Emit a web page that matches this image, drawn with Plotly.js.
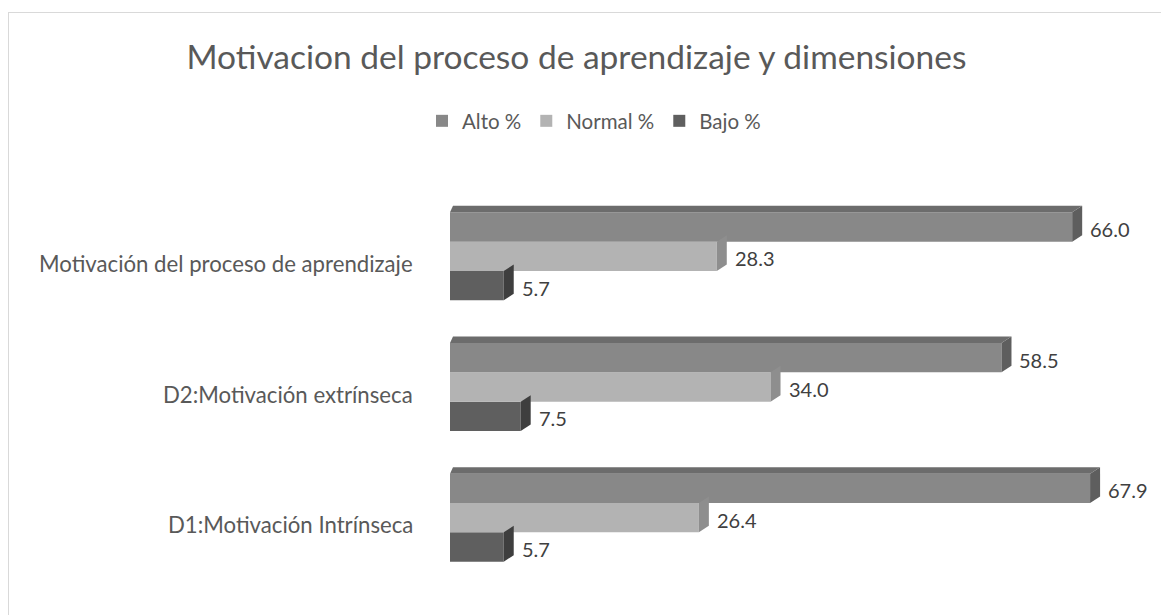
<!DOCTYPE html>
<html>
<head>
<meta charset="utf-8">
<script src="https://cdn.plot.ly/plotly-3.0.1.min.js"></script>
<style>
  html, body { margin: 0; padding: 0; background: #fff; }
  #wrap { position: relative; width: 1161px; height: 615px; overflow: hidden; }
  #chart { position: absolute; left: 0; top: 0; width: 1161px; height: 615px; }
  #frame { position: absolute; left: 8px; top: 12px; width: 1200px; height: 700px;
           border-left: 1.5px solid #d9d9d9; border-top: 1.5px solid #d9d9d9; pointer-events: none; }
</style>
</head>
<body>
<div id="wrap">
  <div id="chart"></div>
  <div id="frame"></div>
</div>
<script>
// ---- data ----
const categories = ['D1:Motivación Intrínseca', 'D2:Motivación extrínseca', 'Motivación del proceso de aprendizaje'];
const seriesNames = ['Alto %', 'Normal %', 'Bajo %'];
const alto = [67.9, 58.5, 66.0];
const normal = [26.4, 34.0, 28.3];
const bajo = [5.7, 7.5, 5.7];

// ---- styling ----
const W = 1161, H = 615;
const margin = {l: 450, r: 20, t: 191, b: 32};
const xMax = 73.3;
const plotW = W - margin.l - margin.r;
const plotH = H - margin.t - margin.b;
const pxPerX = plotW / xMax;
const pxPerCat = plotH / categories.length;
const barW = 0.2245;
const dxU = 10 / pxPerX;        // side depth, x units
const dyU = 6.5 / pxPerCat;     // depth, category units
const dxLeftU = 3 / pxPerX;

const styles = [
  {name: seriesNames[0], vals: alto,   front: '#888888', side: '#5e5e5e', top: '#6c6c6c', offset: barW / 2},
  {name: seriesNames[1], vals: normal, front: '#b3b3b3', side: '#8e8e8e', top: '#9a9a9a', offset: -barW / 2},
  {name: seriesNames[2], vals: bajo,   front: '#5f5f5f', side: '#3e3e3e', top: '#4a4a4a', offset: -barW * 1.5}
];

const catIdx = categories.map((c, i) => i);

// traces in bottom-to-top order so legend (reversed) reads Alto, Normal, Bajo
const traces = styles.slice().reverse().map(s => ({
  type: 'bar',
  orientation: 'h',
  name: s.name,
  y: catIdx,
  x: s.vals,
  width: barW,
  offset: s.offset,
  marker: {color: s.front, line: {width: 0}},
  hoverinfo: 'x+name'
}));

const shapes = [];
const annotations = [];
styles.forEach((s, si) => {
  s.vals.forEach((v, i) => {
    const y0 = i + s.offset;
    const y1 = y0 + barW;
    // right side face
    shapes.push({
      type: 'path', xref: 'x', yref: 'y', layer: 'above',
      path: `M ${v} ${y0} L ${v} ${y1} L ${v + dxU} ${y1 + dyU} L ${v + dxU} ${y0 + dyU} Z`,
      fillcolor: s.side, line: {width: 0}
    });
    // top face only for the top bar of each group
    if (si === 0) {
      shapes.push({
        type: 'path', xref: 'x', yref: 'y', layer: 'above',
        path: `M 0 ${y1} L ${v} ${y1} L ${v + dxU} ${y1 + dyU} L ${dxLeftU} ${y1 + dyU} Z`,
        fillcolor: s.top, line: {width: 0}
      });
    }
    annotations.push({
      xref: 'x', yref: 'y', x: v, y: (y0 + y1) / 2,
      xanchor: 'left', yanchor: 'middle', xshift: 16, yshift: -2,
      text: v.toFixed(1), showarrow: false,
      font: {family: 'Lato, sans-serif', size: 20, color: '#404040'}
    });
  });
});

categories.forEach((c, i) => {
  annotations.push({
    xref: 'paper', yref: 'y', x: 0, y: i,
    xanchor: 'right', yanchor: 'middle', xshift: -35, yshift: -7,
    text: c, showarrow: false,
    font: {family: 'Lato, sans-serif', size: 22.2, color: '#595959'}
  });
});

const layout = {
  width: W, height: H,
  margin: margin,
  paper_bgcolor: '#ffffff',
  plot_bgcolor: '#ffffff',
  barmode: 'overlay',
  title: {
    text: 'Motivacion del proceso de aprendizaje y dimensiones',
    xref: 'container', yref: 'container',
    x: 576.5 / W, y: 1 - 57 / H, xanchor: 'center', yanchor: 'middle',
    font: {family: 'Lato, sans-serif', size: 33.5, color: '#595959'}
  },
  showlegend: true,
  legend: {
    orientation: 'h', traceorder: 'reversed',
    xref: 'container', yref: 'container',
    x: 594 / W, y: 1 - 121 / H, xanchor: 'center', yanchor: 'middle',
    font: {family: 'Lato, sans-serif', size: 20.5, color: '#595959'},
    itemwidth: 30
  },
  xaxis: {
    range: [0, xMax], showgrid: false, zeroline: false,
    showticklabels: false, showline: false, ticks: '', fixedrange: true
  },
  yaxis: {
    type: 'linear',
    range: [-0.5, categories.length - 0.5], showgrid: false, zeroline: false,
    showticklabels: false, showline: false, ticks: '', fixedrange: true
  },
  shapes: shapes,
  annotations: annotations
};

Plotly.newPlot('chart', traces, layout, {displayModeBar: false, staticPlot: true});
</script>
</body>
</html>
